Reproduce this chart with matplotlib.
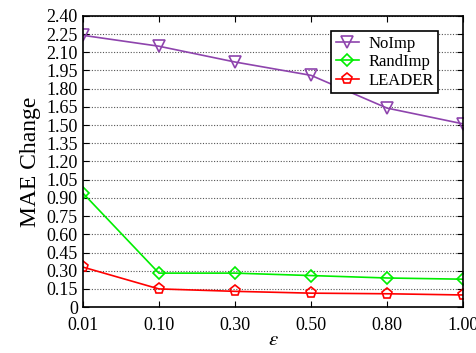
import matplotlib
matplotlib.use('Agg')
import matplotlib.pyplot as plt

eps_labels = ['0.01', '0.10', '0.30', '0.50', '0.80', '1.00']
noimp = [2.24, 2.15, 2.02, 1.91, 1.64, 1.51]
randimp = [0.94, 0.28, 0.28, 0.26, 0.24, 0.23]
leader = [0.33, 0.15, 0.13, 0.115, 0.11, 0.10]
yticks = [0.15 * i for i in range(17)]

plt.rcParams['font.family'] = ['Liberation Serif', 'DejaVu Serif']
plt.rcParams['mathtext.fontset'] = 'stix'

fig = plt.figure(figsize=(4.76, 3.53), dpi=100)
ax = fig.add_axes([0.174, 0.13, 0.799, 0.825])
x = list(range(len(eps_labels)))

ax.plot(x, noimp, color='#8e44ad', marker='v', markersize=8, mfc='none', mew=1.2, lw=1.2, label='NoImp')
ax.plot(x, randimp, color='#00ee00', marker='D', markersize=6, mfc='none', mew=1.2, lw=1.2, label='RandImp')
ax.plot(x, leader, color='#ff0000', marker='p', markersize=8, mfc='none', mew=1.2, lw=1.2, label='LEADER')

ax.set_xlim(0, 5)
ax.set_ylim(0, 2.4)
ax.set_xticks(x)
ax.set_xticklabels(eps_labels)
ax.set_yticks(yticks)
ax.set_yticklabels(['0'] + ['%.2f' % v for v in yticks[1:]])
ax.tick_params(direction='in', top=True, right=True, labelsize=13, length=4)
ax.tick_params(axis='x', pad=7)
ax.yaxis.grid(True, linestyle=(0, (1, 1.5)), color='#555555', lw=0.8)
for s in ax.spines.values():
    s.set_linewidth(1.2)

ax.set_xlabel(r'$\varepsilon$', fontsize=15, labelpad=-2)
ax.set_ylabel('MAE Change', fontsize=17, labelpad=4)
leg = ax.legend(loc='upper right', fontsize=12, fancybox=False, framealpha=1,
                edgecolor='black', handlelength=1.4, borderpad=0.25, labelspacing=0.15,
                handletextpad=0.6, bbox_to_anchor=(0.957, 0.975))
leg.get_frame().set_linewidth(1.2)

fig.savefig('out.png')
